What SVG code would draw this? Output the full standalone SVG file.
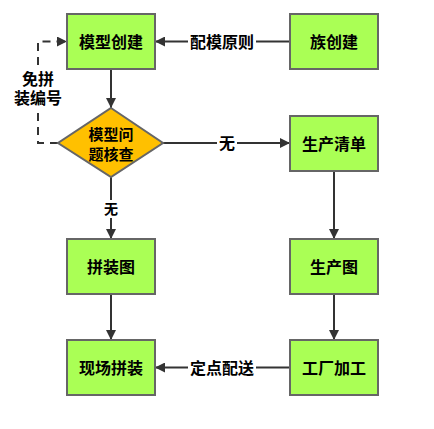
<svg xmlns="http://www.w3.org/2000/svg" width="434" height="429" viewBox="0 0 434 429">
<defs>
<marker id="ah" viewBox="0 0 10 10" refX="10" refY="5" markerWidth="10" markerHeight="10" markerUnits="userSpaceOnUse" orient="auto">
<path d="M0,0 L10,5 L0,10 z" fill="#333"/>
</marker>
<style>
.box{fill:#AAFF55;stroke:#666;stroke-width:2}
.dia{fill:#FFC000;stroke:#666;stroke-width:2}
.t{font-family:"Liberation Sans","Noto Sans CJK SC",sans-serif;font-size:16px;font-weight:bold;fill:#000;text-anchor:middle;dominant-baseline:central}
.c{stroke:#333;stroke-width:2;fill:none}
.lbl{fill:#fff}
</style>
</defs>
<rect width="434" height="429" fill="#fff"/>
<g id="connectors">
<path class="c" d="M111,69 V108" marker-end="url(#ah)"/>
<path class="c" d="M290,41.5 H155" marker-end="url(#ah)"/>
<path class="c" d="M58,143 H38 V41.5 H67" stroke-dasharray="8,6" marker-end="url(#ah)"/>
<path class="c" d="M163,143 H290" marker-end="url(#ah)"/>
<path class="c" d="M111,177 V239" marker-end="url(#ah)"/>
<path class="c" d="M334,171 V239" marker-end="url(#ah)"/>
<path class="c" d="M334,294 V340" marker-end="url(#ah)"/>
<path class="c" d="M111,294 V340" marker-end="url(#ah)"/>
<path class="c" d="M290,367.5 H155" marker-end="url(#ah)"/>
<rect class="lbl" x="188" y="32" width="68" height="20"/>
<text class="t" x="222" y="42">配模原则</text>
<rect class="lbl" x="217" y="133" width="20" height="20"/>
<text class="t" x="227" y="143">无</text>
<rect class="lbl" x="102" y="200" width="18" height="18"/>
<text class="t" x="111" y="209" style="font-size:14px">无</text>
<rect class="lbl" x="188" y="358" width="68" height="20"/>
<text class="t" x="222" y="368">定点配送</text>
<rect class="lbl" x="14" y="68" width="50" height="40"/>
<text class="t" x="38" y="79">免拼</text>
<text class="t" x="38" y="98">装编号</text>
</g>
<g id="n1"><rect class="box" x="67" y="14" width="88" height="55"/><text class="t" x="111" y="42">模型创建</text></g>
<g id="n2"><rect class="box" x="290" y="14" width="88" height="55"/><text class="t" x="334" y="42">族创建</text></g>
<g id="n3"><path class="dia" d="M111,108 L163,143 L111,177 L58,143 z"/><text class="t" x="111" y="134" style="font-size:15px">模型问</text><text class="t" x="111" y="154" style="font-size:15px">题核查</text></g>
<g id="n4"><rect class="box" x="290" y="116" width="88" height="55"/><text class="t" x="334" y="144">生产清单</text></g>
<g id="n5"><rect class="box" x="67" y="239" width="88" height="55"/><text class="t" x="111" y="267">拼装图</text></g>
<g id="n6"><rect class="box" x="290" y="239" width="88" height="55"/><text class="t" x="334" y="267">生产图</text></g>
<g id="n7"><rect class="box" x="67" y="340" width="88" height="55"/><text class="t" x="111" y="368">现场拼装</text></g>
<g id="n8"><rect class="box" x="290" y="340" width="88" height="55"/><text class="t" x="334" y="368">工厂加工</text></g>
</svg>
